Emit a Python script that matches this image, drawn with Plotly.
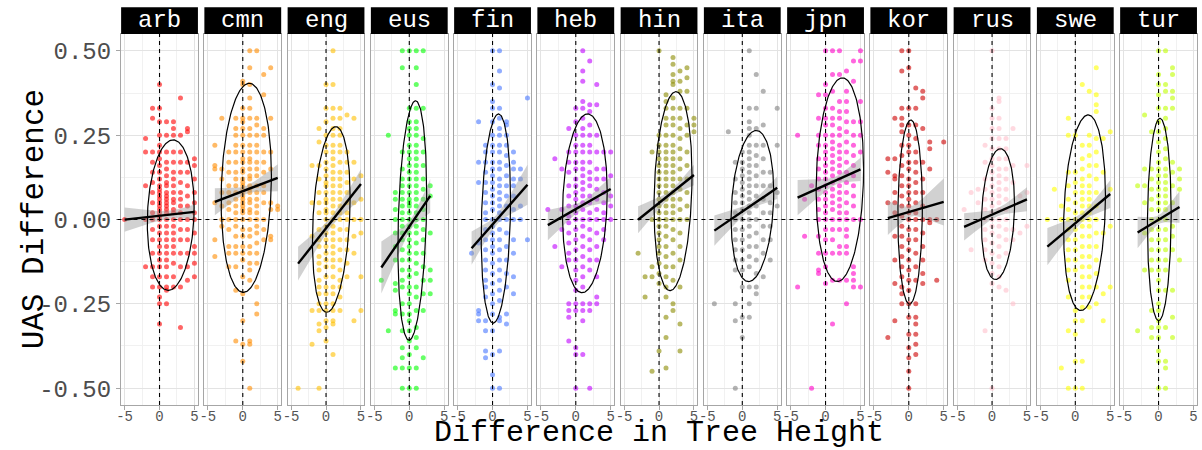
import numpy as np
import plotly.graph_objects as go

# ---------------- data ----------------
LANGS = ["arb", "cmn", "eng", "eus", "fin", "heb", "hin", "ita", "jpn", "kor", "rus", "swe", "tur"]
COLORS = ["#FF0000", "#FF8C00", "#FFBF00", "#00FF00", "#4876FF", "#C000FF", "#8B8B00",
          "#808080", "#FF00C8", "#CD0000", "#FFC0CB", "#FFFF00", "#C0FF00"]

# points: tree-height difference (x) -> UAS differences (y)
arb = {
    -5: [0.0],
    -2: [0.24, 0.2, 0.1, 0.0, -0.14],
    -1: [0.33, 0.3, 0.2, 0.17, 0.14, 0.11, 0.08, 0.05, 0.02, 0.0, -0.03, -0.06, -0.1, -0.14, -0.17, -0.2],
    0: [0.4, 0.33, 0.29, 0.25, 0.22, 0.2, 0.18, 0.16, 0.14, 0.12, 0.1, 0.09, 0.08, 0.07, 0.06, 0.05, 0.04,
        0.03, 0.02, 0.01, 0.0, -0.02, -0.04, -0.06, -0.08, -0.1, -0.12, -0.14, -0.17, -0.2, -0.23, -0.25, -0.31],
    1: [0.29, 0.25, 0.2, 0.17, 0.15, 0.13, 0.11, 0.1, 0.08, 0.07, 0.06, 0.05, 0.04, 0.03, 0.02, 0.0, -0.02,
        -0.04, -0.06, -0.08, -0.1, -0.12, -0.14, -0.17, -0.2, -0.21, -0.25],
    2: [0.29, 0.27, 0.25, 0.2, 0.17, 0.14, 0.12, 0.1, 0.08, 0.06, 0.05, 0.03, 0.02, 0.0, -0.02, -0.04, -0.06,
        -0.08, -0.1, -0.13, -0.17, -0.2],
    3: [0.36, 0.25, 0.2, 0.17, 0.14, 0.11, 0.08, 0.06, 0.04, 0.02, 0.0, -0.03, -0.06, -0.1, -0.14, -0.2, -0.32],
    4: [0.27, 0.26, 0.17, 0.14, 0.1, 0.07, 0.04, 0.0, -0.03, -0.06, -0.1, -0.14, -0.18],
    5: [0.18, 0.16, 0.12, 0.08, 0.05, 0.02, 0.0, -0.04, -0.08, -0.1, -0.13, -0.17],
}
cmn = {
    -4: [0.22, 0.16, 0.15, 0.05, -0.06, -0.11],
    -3: [0.3, 0.15, 0.12, 0.08, 0.04, 0.0, -0.02],
    -2: [0.2, 0.17, 0.14, 0.1, 0.08, 0.05, 0.03, 0.0, -0.03, -0.08, -0.1, -0.14],
    -1: [0.3, 0.27, 0.25, 0.22, 0.2, 0.17, 0.14, 0.12, 0.1, 0.08, 0.06, 0.04, 0.02, 0.0, -0.02, -0.05, -0.08,
         -0.1, -0.14, -0.21, -0.36],
    0: [0.41, 0.4, 0.33, 0.3, 0.29, 0.27, 0.25, 0.22, 0.2, 0.18, 0.17, 0.15, 0.14, 0.12, 0.11, 0.1, 0.09, 0.08,
        0.07, 0.06, 0.05, 0.04, 0.03, 0.02, 0.0, -0.03, -0.05, -0.08, -0.1, -0.12, -0.17, -0.22, -0.3, -0.37, -0.42],
    1: [0.5, 0.45, 0.4, 0.36, 0.33, 0.3, 0.27, 0.25, 0.22, 0.2, 0.18, 0.17, 0.15, 0.13, 0.12, 0.1, 0.09, 0.08,
        0.06, 0.05, 0.03, 0.02, 0.0, -0.03, -0.05, -0.08, -0.1, -0.13, -0.15, -0.18, -0.36, -0.37, -0.5],
    2: [0.5, 0.3, 0.28, 0.25, 0.22, 0.2, 0.17, 0.15, 0.13, 0.1, 0.08, 0.06, 0.04, 0.02, 0.0, -0.02, -0.04,
        -0.07, -0.1, -0.13, -0.2, -0.25, -0.28],
    3: [0.43, 0.37, 0.27, 0.25, 0.2, 0.17, 0.14, 0.1, 0.08, 0.05, 0.0, -0.03, -0.06],
    4: [0.45, 0.3, 0.2, 0.15, 0.05, 0.03, -0.05, -0.06],
    5: [0.04, 0.03],
}
eng = {
    -4: [-0.5],
    -2: [0.16, 0.05, -0.05, -0.27, -0.37],
    -1: [0.27, 0.23, 0.16, 0.12, 0.08, 0.05, 0.02, -0.03, -0.06, -0.08, -0.11, -0.13, -0.15, -0.18, -0.2,
         -0.22, -0.25, -0.27, -0.31, -0.33, -0.5],
    0: [0.4, 0.33, 0.29, 0.25, 0.22, 0.2, 0.17, 0.15, 0.13, 0.11, 0.1, 0.08, 0.06, 0.05, 0.03, 0.02, 0.0, -0.02,
        -0.04, -0.06, -0.08, -0.1, -0.12, -0.14, -0.17, -0.2, -0.22, -0.25, -0.27, -0.3, -0.32, -0.36],
    1: [0.5, 0.4, 0.33, 0.3, 0.27, 0.25, 0.22, 0.2, 0.18, 0.16, 0.14, 0.12, 0.1, 0.08, 0.06, 0.04, 0.02, 0.0,
        -0.02, -0.04, -0.06, -0.08, -0.1, -0.12, -0.14, -0.17, -0.2, -0.22, -0.25, -0.27, -0.3, -0.31, -0.4],
    2: [0.33, 0.3, 0.27, 0.25, 0.22, 0.2, 0.17, 0.14, 0.12, 0.1, 0.08, 0.06, 0.04, 0.02, 0.0, -0.03, -0.06,
        -0.09, -0.12, -0.15, -0.18, -0.2, -0.23, -0.27],
    3: [0.31, 0.2, 0.17, 0.14, 0.11, 0.08, 0.05, 0.02, 0.0, -0.03, -0.06, -0.09, -0.13, -0.17],
    4: [0.3, 0.17, 0.12, 0.05, 0.0, -0.05, -0.1, -0.3],
    5: [0.13, 0.06, 0.0, -0.04, -0.17, -0.27],
}
eus = {
    -4: [-0.18],
    -3: [0.25, -0.33],
    -2: [0.08, 0.06, 0.03, 0.0, -0.04, -0.08, -0.12, -0.19, -0.21, -0.27, -0.28, -0.44],
    -1: [0.5, 0.45, 0.2, 0.15, 0.12, 0.1, 0.08, 0.06, 0.04, 0.02, 0.0, -0.02, -0.04, -0.06, -0.09, -0.12,
         -0.15, -0.18, -0.2, -0.25, -0.28, -0.33, -0.38, -0.41, -0.44, -0.5],
    0: [0.5, 0.33, 0.29, 0.27, 0.25, 0.22, 0.2, 0.18, 0.16, 0.14, 0.12, 0.1, 0.08, 0.06, 0.05, 0.04, 0.02, 0.0,
        -0.02, -0.04, -0.06, -0.08, -0.1, -0.12, -0.15, -0.17, -0.2, -0.22, -0.25, -0.28, -0.3, -0.33, -0.36,
        -0.4, -0.44, -0.5],
    1: [0.5, 0.45, 0.4, 0.33, 0.29, 0.27, 0.25, 0.22, 0.2, 0.18, 0.16, 0.14, 0.12, 0.1, 0.08, 0.06, 0.04, 0.02,
        0.0, -0.02, -0.04, -0.07, -0.1, -0.13, -0.16, -0.2, -0.23, -0.27, -0.32, -0.35, -0.38, -0.44, -0.5],
    2: [0.5, 0.33, 0.24, 0.2, 0.16, 0.12, 0.09, 0.06, 0.03, 0.0, -0.03, -0.06, -0.1, -0.14, -0.18, -0.22,
        -0.27, -0.41],
    3: [0.1, 0.07, -0.04, -0.15, -0.18, -0.22],
}
fin = {
    -3: [-0.1],
    -2: [0.29, 0.17, 0.11, -0.07, -0.27, -0.28, -0.3],
    -1: [0.22, 0.2, 0.17, 0.14, 0.11, 0.08, 0.05, 0.02, 0.0, -0.03, -0.06, -0.09, -0.12, -0.15, -0.18, -0.2,
         -0.23, -0.3, -0.33, -0.39, -0.41],
    0: [0.5, 0.4, 0.35, 0.33, 0.29, 0.25, 0.22, 0.2, 0.17, 0.15, 0.13, 0.11, 0.09, 0.07, 0.05, 0.03, 0.0,
        -0.02, -0.04, -0.06, -0.08, -0.1, -0.13, -0.16, -0.19, -0.22, -0.25, -0.28, -0.33, -0.4, -0.46, -0.5],
    1: [0.5, 0.44, 0.39, 0.33, 0.3, 0.27, 0.25, 0.22, 0.2, 0.17, 0.15, 0.12, 0.1, 0.08, 0.06, 0.04, 0.02, 0.0,
        -0.03, -0.06, -0.09, -0.12, -0.15, -0.18, -0.21, -0.24, -0.29, -0.3, -0.39, -0.5],
    2: [0.29, 0.28, 0.25, 0.22, 0.19, 0.16, 0.13, 0.1, 0.07, 0.04, 0.0, -0.04, -0.08, -0.12, -0.16, -0.2,
        -0.28, -0.31],
    3: [0.2, 0.17, 0.15, 0.12, 0.1, 0.07, 0.03, 0.0, -0.06, -0.1, -0.17, -0.22],
    4: [0.15, 0.12, 0.04, 0.0],
    5: [0.36, -0.06],
}
heb = {
    -4: [0.03],
    -3: [0.18, -0.08],
    -2: [0.15, 0.03, -0.03, -0.14],
    -1: [0.27, 0.2, 0.17, 0.14, 0.1, 0.07, 0.04, 0.01, -0.01, -0.04, -0.07, -0.1, -0.12, -0.25, -0.27,
         -0.29, -0.36],
    0: [0.33, 0.29, 0.25, 0.22, 0.2, 0.17, 0.15, 0.12, 0.1, 0.08, 0.06, 0.04, 0.02, 0.0, -0.03, -0.06, -0.09,
        -0.12, -0.15, -0.18, -0.21, -0.25, -0.27, -0.38, -0.4, -0.5],
    1: [0.5, 0.44, 0.41, 0.35, 0.33, 0.3, 0.27, 0.25, 0.22, 0.2, 0.17, 0.15, 0.13, 0.11, 0.09, 0.07, 0.05,
        0.03, 0.0, -0.02, -0.05, -0.08, -0.11, -0.14, -0.17, -0.2, -0.25, -0.27, -0.3, -0.4],
    2: [0.47, 0.34, 0.32, 0.28, 0.25, 0.22, 0.2, 0.17, 0.14, 0.12, 0.1, 0.07, 0.05, 0.02, 0.0, -0.03, -0.06,
        -0.09, -0.12, -0.15, -0.25, -0.27, -0.5],
    3: [0.4, 0.34, 0.25, 0.2, 0.15, 0.12, 0.09, 0.06, 0.03, 0.0, -0.04, -0.08, -0.12, -0.17, -0.23, -0.25],
    4: [0.2, 0.15, 0.12, 0.08, 0.05, 0.02, 0.0, -0.03, -0.06],
    5: [0.2, 0.13, 0.07, 0.04, 0.0],
}
hin = {
    -3: [-0.1],
    -2: [-0.17, -0.23],
    -1: [0.2, 0.0, -0.14, -0.17, -0.45],
    0: [0.5, 0.25, 0.22, 0.2, 0.18, 0.16, 0.14, 0.12, 0.1, 0.08, 0.06, 0.04, 0.02, 0.0, -0.02, -0.04, -0.06,
        -0.08, -0.1, -0.13, -0.16, -0.19, -0.39],
    1: [0.37, 0.35, 0.33, 0.3, 0.28, 0.25, 0.22, 0.2, 0.18, 0.16, 0.14, 0.12, 0.1, 0.08, 0.06, 0.04, 0.02,
        0.0, -0.02, -0.05, -0.08, -0.11, -0.14, -0.17, -0.2, -0.23, -0.29, -0.35, -0.44],
    2: [0.48, 0.46, 0.43, 0.41, 0.4, 0.36, 0.33, 0.3, 0.28, 0.25, 0.22, 0.2, 0.18, 0.16, 0.14, 0.12, 0.1,
        0.08, 0.06, 0.04, 0.02, 0.0, -0.03, -0.06, -0.1, -0.14, -0.18, -0.25, -0.27],
    3: [0.44, 0.41, 0.38, 0.33, 0.3, 0.27, 0.24, 0.21, 0.18, 0.15, 0.12, 0.09, 0.06, 0.03, 0.0, -0.04, -0.08,
        -0.12, -0.2, -0.31, -0.39],
    4: [0.45, 0.42, 0.38, 0.33, 0.28, 0.25, 0.2, 0.16, 0.12, 0.08, 0.04, 0.0],
    5: [0.3, 0.28, 0.26],
}
ita = {
    -4: [-0.25],
    -2: [0.26],
    -1: [0.17, 0.12, 0.08, 0.05, 0.02, 0.0, -0.03, -0.06, -0.09, -0.12, -0.15, -0.25, -0.3, -0.5],
    0: [0.2, 0.17, 0.15, 0.13, 0.11, 0.09, 0.07, 0.05, 0.03, 0.0, -0.03, -0.06, -0.09, -0.12, -0.15, -0.2,
        -0.29, -0.35],
    1: [0.5, 0.33, 0.29, 0.27, 0.25, 0.22, 0.2, 0.18, 0.16, 0.14, 0.12, 0.1, 0.08, 0.06, 0.04, 0.02, 0.0,
        -0.02, -0.05, -0.08, -0.11, -0.14, -0.2, -0.25, -0.29],
    2: [0.43, 0.33, 0.27, 0.22, 0.19, 0.16, 0.13, 0.1, 0.07, 0.04, 0.0, -0.04, -0.08, -0.12, -0.16, -0.2, -0.22],
    3: [0.38, 0.28, 0.22, 0.18, 0.14, 0.1, 0.06, 0.02, -0.02, -0.06, -0.1, -0.17],
    4: [0.14, 0.1, 0.05, 0.02, -0.02, -0.06, -0.12],
    5: [0.33, 0.22, 0.08, 0.04],
}
jpn = {
    -4: [0.25, -0.2],
    -3: [0.06, -0.05],
    -2: [0.1, -0.5],
    -1: [0.37, 0.3, 0.25, 0.22, 0.18, 0.15, 0.12, 0.09, 0.06, 0.03, 0.0, -0.05, -0.1, -0.15, -0.16],
    0: [0.5, 0.4, 0.37, 0.33, 0.3, 0.28, 0.25, 0.22, 0.2, 0.18, 0.16, 0.14, 0.12, 0.1, 0.08, 0.06, 0.04, 0.02,
        0.0, -0.03, -0.06, -0.1, -0.14, -0.19],
    1: [0.5, 0.43, 0.38, 0.33, 0.3, 0.28, 0.25, 0.23, 0.21, 0.19, 0.17, 0.15, 0.13, 0.11, 0.09, 0.07, 0.05,
        0.03, 0.0, -0.03, -0.06, -0.1, -0.18, -0.31],
    2: [0.5, 0.43, 0.35, 0.32, 0.3, 0.27, 0.25, 0.22, 0.2, 0.18, 0.16, 0.14, 0.12, 0.1, 0.08, 0.06, 0.04,
        0.02, 0.0, -0.03, -0.08, -0.1, -0.18],
    3: [0.44, 0.38, 0.35, 0.32, 0.29, 0.26, 0.23, 0.2, 0.17, 0.14, 0.11, 0.08, 0.05, 0.02, 0.0, -0.03, -0.05,
        -0.08, -0.1, -0.18, -0.25],
    4: [0.47, 0.41, 0.29, 0.25, 0.22, 0.19, 0.16, 0.13, 0.1, 0.07, 0.04, 0.0, -0.14, -0.16, -0.18, -0.2],
    5: [0.5, 0.47, 0.35, 0.29, 0.25, 0.2, 0.0, -0.2],
}
kor = {
    -3: [0.18, 0.14, 0.05, -0.35],
    -2: [0.3, 0.18, 0.13, 0.12, 0.08, 0.05, 0.02, -0.05, -0.12, -0.19, -0.3],
    -1: [0.5, 0.44, 0.33, 0.3, 0.28, 0.26, 0.22, 0.19, 0.16, 0.13, 0.1, 0.07, 0.04, 0.01, -0.02, -0.05, -0.08,
         -0.11, -0.14, -0.17, -0.2, -0.22, -0.25],
    0: [0.5, 0.45, 0.33, 0.28, 0.25, 0.22, 0.2, 0.17, 0.15, 0.12, 0.1, 0.08, 0.06, 0.04, 0.02, 0.0, -0.03,
        -0.06, -0.09, -0.12, -0.15, -0.18, -0.21, -0.25, -0.29, -0.34, -0.38, -0.41, -0.45, -0.5],
    1: [0.39, 0.33, 0.28, 0.24, 0.2, 0.17, 0.14, 0.11, 0.08, 0.05, 0.02, 0.0, -0.03, -0.06, -0.1, -0.14,
        -0.18, -0.25, -0.29, -0.31, -0.34, -0.37, -0.4],
    2: [0.38, 0.36, 0.27, 0.17, 0.12, 0.08, 0.04, 0.0, -0.04, -0.08, -0.12, -0.16, -0.19],
    3: [0.23, 0.21, 0.15, 0.0, -0.01],
    4: [0.0, -0.18],
    5: [0.23],
}
rus = {
    -4: [0.03],
    -3: [0.08, -0.09],
    -2: [0.09, 0.05],
    -1: [0.22, 0.17, 0.12, 0.09, 0.06, 0.03, 0.0, -0.03, -0.06, -0.09, -0.12, -0.33],
    0: [0.5, 0.33, 0.3, 0.27, 0.24, 0.21, 0.18, 0.16, 0.14, 0.12, 0.1, 0.08, 0.06, 0.04, 0.02, 0.0, -0.02,
        -0.04, -0.07, -0.1, -0.13, -0.16, -0.19, -0.5],
    1: [0.36, 0.35, 0.3, 0.27, 0.24, 0.21, 0.18, 0.15, 0.13, 0.11, 0.09, 0.07, 0.05, 0.03, 0.0, -0.02, -0.05,
        -0.08, -0.11, -0.14, -0.17, -0.2],
    2: [0.24, 0.21, 0.18, 0.15, 0.12, 0.09, 0.06, 0.03, 0.0, -0.03, -0.06, -0.1, -0.21],
    3: [0.27, 0.16, 0.11, -0.03, -0.06, -0.25],
    4: [0.07, -0.04],
    5: [0.16, 0.08, -0.02],
}
swe = {
    -4: [0.0],
    -3: [0.09],
    -2: [0.04, 0.0, -0.44],
    -1: [0.3, 0.25, 0.14, 0.1, 0.06, 0.03, 0.0, -0.03, -0.06, -0.09, -0.12, -0.15, -0.18, -0.23, -0.33, -0.5],
    0: [0.25, 0.14, 0.11, 0.08, 0.05, 0.02, 0.0, -0.03, -0.06, -0.09, -0.12, -0.15, -0.27, -0.3, -0.34,
        -0.42, -0.5],
    1: [0.4, 0.22, 0.18, 0.15, 0.12, 0.1, 0.08, 0.06, 0.04, 0.02, 0.0, -0.02, -0.05, -0.08, -0.11, -0.14,
        -0.17, -0.2, -0.23, -0.26, -0.3, -0.42, -0.5],
    2: [0.38, 0.25, 0.22, 0.19, 0.16, 0.13, 0.1, 0.08, 0.06, 0.04, 0.02, 0.0, -0.02, -0.05, -0.08, -0.11,
        -0.14, -0.17, -0.2, -0.23, -0.26],
    3: [0.45, 0.37, 0.34, 0.32, 0.24, 0.2, 0.16, 0.12, 0.08, 0.04, 0.0, -0.04, -0.08, -0.12, -0.16, -0.2, -0.25],
    4: [0.24, 0.14, -0.04, -0.22, -0.3],
    5: [0.26, 0.09, -0.02, -0.2],
}
tur = {
    -3: [0.1, -0.33],
    -2: [0.31, 0.15, 0.1, 0.05, -0.04, -0.15],
    -1: [0.26, 0.15, 0.12, 0.09, 0.06, 0.03, 0.0, -0.03, -0.06, -0.09, -0.12, -0.15, -0.27, -0.32, -0.35],
    0: [0.5, 0.43, 0.4, 0.37, 0.33, 0.29, 0.26, 0.23, 0.2, 0.17, 0.15, 0.13, 0.11, 0.09, 0.07, 0.05, 0.03,
        0.0, -0.03, -0.06, -0.09, -0.12, -0.15, -0.18, -0.21, -0.25, -0.27, -0.3, -0.32, -0.35, -0.39, -0.42, -0.5],
    1: [0.5, 0.4, 0.38, 0.33, 0.3, 0.27, 0.24, 0.21, 0.18, 0.15, 0.13, 0.11, 0.09, 0.07, 0.05, 0.03, 0.0,
        -0.03, -0.06, -0.09, -0.12, -0.15, -0.21, -0.32, -0.42, -0.44, -0.5],
    2: [0.45, 0.43, 0.38, 0.36, 0.33, 0.17, 0.14, 0.1, 0.05, -0.02, -0.05, -0.09, -0.21, -0.29, -0.35],
    3: [0.15, 0.12, 0.09, -0.12],
}
POINTS = [arb, cmn, eng, eus, fin, heb, hin, ita, jpn, kor, rus, swe, tur]

# confidence ellipses: centre, half-width, half-height, x-offset of top point
ELL_CX = [1.6, 0.5, 0.75, 0.43, 0.48, 1.3, 2.0, 1.45, 2.05, 0.19, 0.85, 1.32, 0.11]
ELL_CY = [0.013, 0.094, 0.0, -0.003, 0.003, 0.048, 0.084, 0.04, 0.118, 0.022, 0.016, 0.02, 0.0]
ELL_RX = [3.35, 3.6, 2.7, 2.06, 2.1, 3.2, 2.72, 3.05, 3.4, 1.75, 2.37, 3.0, 1.7]
ELL_RY = [0.223, 0.31, 0.275, 0.355, 0.31, 0.265, 0.295, 0.224, 0.302, 0.273, 0.194, 0.29, 0.3]
ELL_TOPDX = [0.35, 0.43, 0.65, 0.47, 0.38, 0.4, 0.43, 0.55, 0.36, 0.09, 0.36, 0.52, 0.1]

# linear fits and their standard-error bands
FIT_XLO = [-5, -4, -4, -4, -3, -4, -3, -4, -4, -3, -4, -4, -3]
FIT_XHI = [5, 5, 5, 3, 5, 5, 5, 5, 5, 5, 5, 5, 3]
FIT_B0 = [0.011, 0.084, -0.026, -0.021, -0.0145, 0.031, 0.049, 0.0234, 0.102, 0.022, 0.0144, -0.011, -0.0008]
FIT_B1 = [0.0023, 0.0079, 0.0262, 0.0303, 0.0235, 0.0119, 0.0166, 0.0141, 0.0093, 0.006, 0.0091, 0.0173, 0.0126]
SE_XM = [1.5, 0.5, 0.8, 0.3, 0.6, 1.0, 1.6, 1.2, 1.5, 0.3, 0.8, 1.2, 0.0]
SE_MIN = [0.012, 0.012, 0.015, 0.015, 0.015, 0.012, 0.01, 0.01, 0.012, 0.015, 0.012, 0.013, 0.013]
SE_K = [0.0052, 0.0085, 0.0099, 0.0176, 0.013, 0.0087, 0.0084, 0.0084, 0.0092, 0.0145, 0.008, 0.0103, 0.015]

X_TICKS = [-5, 0, 5]
X_TICKTEXT = ["-5", "0", "5"]
Y_TICKS = [-0.5, -0.25, 0.0, 0.25, 0.5]
Y_TICKTEXT = ["-0.50", "-0.25", "0.00", "0.25", "0.50"]

# ---------------- layout geometry ----------------
W, H = 1202, 450
P_LEFT, P_STEP, P_W = 116.7, 83.67, 77.2
P_TOP, P_BOT, S_TOP = 34.0, 405.0, 7.3
FONT = "Liberation Mono, Courier New, monospace"
GRID = "#E3E3E3"
MINOR = "#F1F1F1"
BORDER = "#A6A6A6"

fig = go.Figure()
layout = dict(
    width=W, height=H, margin=dict(l=0, r=0, t=0, b=0),
    paper_bgcolor="white", plot_bgcolor="white", showlegend=False,
    font=dict(family=FONT, color="#4D4D4D"),
)
shapes, annotations = [], []
ydom = [(H - P_BOT) / H, (H - P_TOP) / H]

for i, lang in enumerate(LANGS):
    sfx = "" if i == 0 else str(i + 1)
    xa, ya = "x" + sfx, "y" + sfx
    x0p = (P_LEFT + i * P_STEP) / W
    x1p = (P_LEFT + i * P_STEP + P_W) / W

    xs, ys = [], []
    for xv, yl in POINTS[i].items():
        xs += [xv] * len(yl)
        ys += yl
    fig.add_trace(go.Scatter(
        x=xs, y=ys, mode="markers", xaxis=xa, yaxis=ya, hoverinfo="skip",
        marker=dict(color=COLORS[i], size=5, opacity=0.6, line=dict(width=0))))

    # smoothing band + line
    xl = np.linspace(FIT_XLO[i], FIT_XHI[i], 80)
    yl = FIT_B0[i] + FIT_B1[i] * xl
    se = np.sqrt(SE_MIN[i] ** 2 + (SE_K[i] * (xl - SE_XM[i])) ** 2)
    fig.add_trace(go.Scatter(
        x=np.concatenate([xl, xl[::-1]]), y=np.concatenate([yl + se, (yl - se)[::-1]]),
        mode="lines", fill="toself", fillcolor="rgba(153,153,153,0.45)", line=dict(width=0),
        xaxis=xa, yaxis=ya, hoverinfo="skip"))
    fig.add_trace(go.Scatter(x=xl, y=yl, mode="lines", line=dict(color="black", width=2.4),
                             xaxis=xa, yaxis=ya, hoverinfo="skip"))

    # ellipse
    t = np.linspace(0, 2 * np.pi, 240)
    m11, h = ELL_RX[i], ELL_RY[i]
    m21 = ELL_TOPDX[i] * h / m11
    m22 = np.sqrt(h ** 2 - m21 ** 2)
    ex = ELL_CX[i] + m11 * np.cos(t)
    ey = ELL_CY[i] + m21 * np.cos(t) + m22 * np.sin(t)
    fig.add_trace(go.Scatter(x=ex, y=ey, mode="lines", line=dict(color="black", width=1.2),
                             xaxis=xa, yaxis=ya, hoverinfo="skip"))

    layout["xaxis" + sfx] = dict(
        domain=[x0p, x1p], range=[-5.5, 5.5], anchor=ya,
        tickmode="array", tickvals=X_TICKS, ticktext=X_TICKTEXT,
        ticks="outside", ticklen=4, tickcolor=BORDER, tickwidth=1,
        ticklabelstandoff=-6,
        tickfont=dict(size=14, color="#555555", family=FONT),
        showline=True, mirror=True, linecolor=BORDER, linewidth=1.3,
        showgrid=True, gridcolor=GRID, gridwidth=1, zeroline=False,
        minor=dict(tickvals=[-2.5, 2.5], showgrid=True, gridcolor=MINOR, gridwidth=1, ticks=""),
        fixedrange=True,
    )
    layout["yaxis" + sfx] = dict(
        domain=ydom, range=[-0.55, 0.55], anchor=xa,
        tickmode="array", tickvals=Y_TICKS, ticktext=Y_TICKTEXT,
        ticks="outside" if i == 0 else "", ticklen=4, tickcolor=BORDER, tickwidth=1,
        showticklabels=(i == 0),
        tickfont=dict(size=24, color="#4D4D4D", family=FONT),
        showline=True, mirror=True, linecolor=BORDER, linewidth=1.3,
        showgrid=True, gridcolor=GRID, gridwidth=1, zeroline=False,
        minor=dict(tickvals=[-0.375, -0.125, 0.125, 0.375], showgrid=True, gridcolor=MINOR,
                   gridwidth=1, ticks=""),
        fixedrange=True,
    )

    # vertical dashed line at x = 0
    shapes.append(dict(type="line", xref=xa, yref=ya + " domain", x0=0, x1=0, y0=0, y1=1,
                       line=dict(color="black", width=1.1, dash="4px,4px"), layer="above"))
    # strip
    shapes.append(dict(type="rect", xref="paper", yref="paper", x0=x0p, x1=x1p,
                       y0=(H - P_TOP) / H, y1=(H - S_TOP) / H, fillcolor="black",
                       line=dict(width=0), layer="above"))
    annotations.append(dict(text=lang, xref="paper", yref="paper", x=(x0p + x1p) / 2,
                            y=(H - (P_TOP + S_TOP) / 2) / H, xanchor="center", yanchor="middle",
                            showarrow=False, font=dict(size=24, color="white", family=FONT)))

# horizontal dashed line at y = 0
shapes.append(dict(type="line", xref="paper", yref="y", x0=113 / W, x1=1200 / W, y0=0, y1=0,
                   line=dict(color="black", width=1.1, dash="4px,4px"), layer="above"))

annotations.append(dict(text="UAS Difference", xref="paper", yref="paper", x=30 / W,
                        y=(H - (P_TOP + P_BOT) / 2) / H, xanchor="center", yanchor="middle",
                        textangle=-90, showarrow=False, font=dict(size=31, color="black", family=FONT)))
annotations.append(dict(text="Difference in Tree Height", xref="paper", yref="paper",
                        x=(P_LEFT + (P_LEFT + 12 * P_STEP + P_W)) / 2 / W, y=0,
                        xanchor="center", yanchor="bottom", yshift=-2, showarrow=False,
                        font=dict(size=30, color="black", family=FONT)))

layout["shapes"] = shapes
layout["annotations"] = annotations
fig.update_layout(**layout)
fig.write_html("out.html")
